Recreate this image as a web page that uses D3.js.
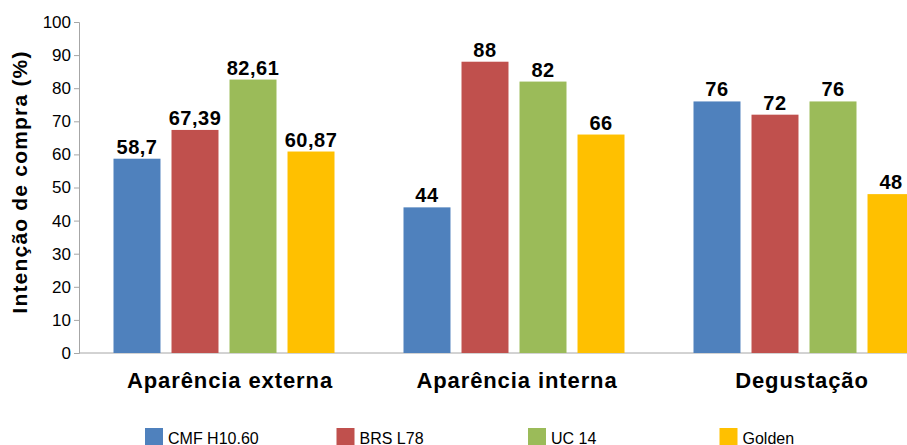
<!DOCTYPE html>
<html>
<head>
<meta charset="utf-8">
<script src="https://cdn.jsdelivr.net/npm/d3@7"></script>
<style>
  body { margin: 0; background: #fff; }
  svg { display: block; font-family: "Liberation Sans", Arial, sans-serif; }
</style>
</head>
<body>
<div id="chart"></div>
<script>
// data
var categories = ["Aparência externa", "Aparência interna", "Degustação"];
var seriesNames = ["CMF H10.60", "BRS L78", "UC 14", "Golden"];
var seriesColors = ["#4F81BD", "#C0504D", "#9BBB59", "#FFC000"];
var cmf = [58.7, 44, 76];
var brs = [67.39, 88, 72];
var uc = [82.61, 82, 76];
var golden = [60.87, 66, 48];
var yTicks = [0, 10, 20, 30, 40, 50, 60, 70, 80, 90, 100];

var series = [cmf, brs, uc, golden];
var width = 907, height = 445;
var plotLeft = 79, plotTop = 22, plotBottom = 353;

var svg = d3.select('#chart')
  .append('svg')
  .attr('width', width)
  .attr('height', height);

var y = d3.scaleLinear().domain([0, 100]).range([plotBottom, plotTop]);
// plot area is wider than the picture, last group gets cut off
var x0 = d3.scaleBand().domain(categories).range([plotLeft, plotLeft + 3 * 290]).padding(0);
var x1 = d3.scaleBand().domain(seriesNames).range([34.5, 255.5]).paddingInner(0.19).paddingOuter(0);

// y axis
var yAxis = svg.append('g')
  .attr('transform', 'translate(' + plotLeft + ',0)')
  .call(d3.axisLeft(y).tickValues(yTicks).tickSize(5).tickPadding(3));
yAxis.select('.domain').attr('stroke', '#a6a6a6');
yAxis.selectAll('.tick line').attr('stroke', '#a6a6a6');
yAxis.selectAll('.tick text')
  .attr('font-size', 17)
  .attr('fill', '#000')
  .attr('font-family', '"Liberation Sans", Arial, sans-serif');

// x baseline
svg.append('line')
  .attr('x1', plotLeft).attr('x2', width)
  .attr('y1', plotBottom).attr('y2', plotBottom)
  .attr('stroke', '#a6a6a6');

// bars
var groups = svg.selectAll('.grp')
  .data(categories)
  .enter()
  .append('g')
  .attr('class', 'grp')
  .attr('transform', function (d) {return 'translate(' + x0(d) + ',0)';});

groups.selectAll('rect')
  .data(function (d, i) {return series.map(function (s, j) {return {name: seriesNames[j], v: s[i], c: seriesColors[j]};});})
  .enter()
  .append('rect')
  .attr('x', function (d) {return x1(d.name);})
  .attr('y', function (d) {return y(d.v);})
  .attr('width', x1.bandwidth())
  .attr('height', function (d) {return plotBottom - y(d.v);})
  .attr('fill', function (d) {return d.c;});

groups.selectAll('.lbl')
  .data(function (d, i) {return series.map(function (s, j) {return {name: seriesNames[j], v: s[i]};});})
  .enter()
  .append('text')
  .attr('class', 'lbl')
  .attr('x', function (d) {return x1(d.name) + x1.bandwidth() / 2;})
  .attr('y', function (d) {return y(d.v) - 5;})
  .attr('text-anchor', 'middle')
  .attr('font-size', 20)
  .attr('font-weight', 'bold')
  .attr('letter-spacing', 0.5)
  .text(function (d) {return String(d.v).replace('.', ',');});

// category labels
var catOffsets = [6, 3, -2];
svg.selectAll('.cat')
  .data(categories)
  .enter()
  .append('text')
  .attr('class', 'cat')
  .attr('x', function (d, i) {return x0(d) + x0.bandwidth() / 2 + catOffsets[i];})
  .attr('y', 388)
  .attr('text-anchor', 'middle')
  .attr('font-size', 22)
  .attr('font-weight', 'bold')
  .attr('letter-spacing', 0.9)
  .text(function (d) {return d;});

// y title
svg.append('text')
  .attr('transform', 'translate(27,182) rotate(-90)')
  .attr('text-anchor', 'middle')
  .attr('font-size', 21)
  .attr('font-weight', 'bold')
  .attr('letter-spacing', 1.2)
  .text('Intenção de compra (%)');

// legend
var legend = svg.selectAll('.leg')
  .data(seriesNames)
  .enter()
  .append('g')
  .attr('class', 'leg')
  .attr('transform', function (d, i) {return 'translate(' + (145 + i * 191.5) + ',428)';});

legend.append('rect')
  .attr('width', 18)
  .attr('height', 17)
  .attr('fill', function (d, i) {return seriesColors[i];});

legend.append('text')
  .attr('x', 23)
  .attr('y', 16)
  .attr('font-size', 16)
  .text(function (d) {return d;});
</script>
</body>
</html>
